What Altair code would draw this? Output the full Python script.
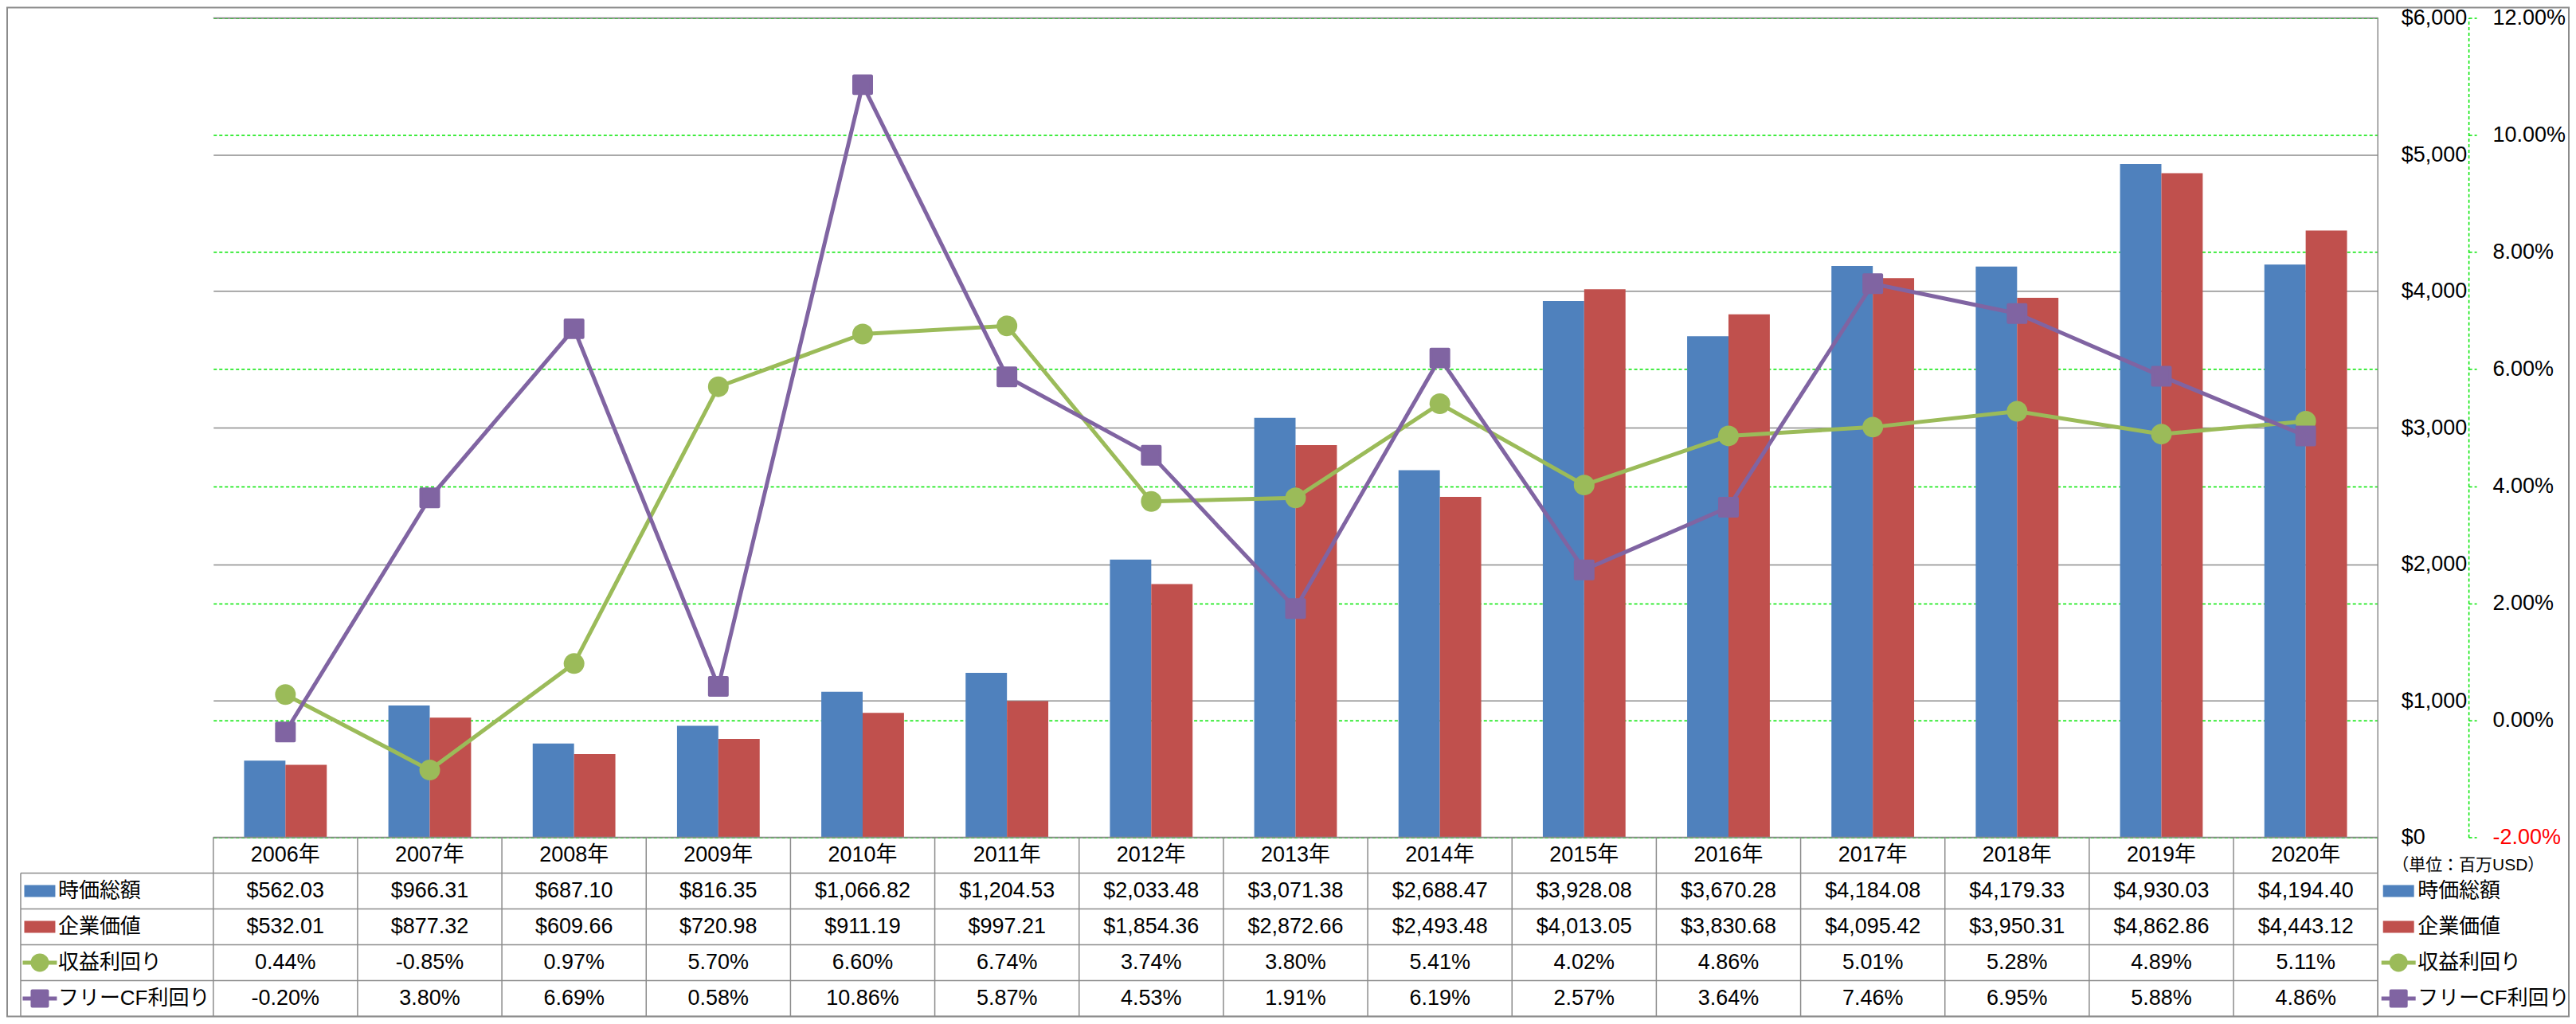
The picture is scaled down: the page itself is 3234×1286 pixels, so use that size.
import altair as alt
import pandas as pd

# ---------------- data ----------------
years = [2006, 2007, 2008, 2009, 2010, 2011, 2012, 2013, 2014, 2015, 2016, 2017, 2018, 2019, 2020]
year_labels = [f"{y}年" for y in years]
market_cap = [562.03, 966.31, 687.10, 816.35, 1066.82, 1204.53, 2033.48, 3071.38, 2688.47,
              3928.08, 3670.28, 4184.08, 4179.33, 4930.03, 4194.40]
enterprise_value = [532.01, 877.32, 609.66, 720.98, 911.19, 997.21, 1854.36, 2872.66, 2493.48,
                    4013.05, 3830.68, 4095.42, 3950.31, 4862.86, 4443.12]
earnings_yield = [0.44, -0.85, 0.97, 5.70, 6.60, 6.74, 3.74, 3.80, 5.41, 4.02, 4.86, 5.01, 5.28, 4.89, 5.11]
fcf_yield = [-0.20, 3.80, 6.69, 0.58, 10.86, 5.87, 4.53, 1.91, 6.19, 2.57, 3.64, 7.46, 6.95, 5.88, 4.86]
series_names = ["時価総額", "企業価値", "収益利回り", "フリーCF利回り"]
series_colors = ["#4F81BD", "#C0504D", "#9BBB59", "#8064A2"]
usd_ticks = [0, 1000, 2000, 3000, 4000, 5000, 6000]
pct_ticks = [-2, 0, 2, 4, 6, 8, 10, 12]
unit_label = "（単位：百万USD）"

# ---------------- layout / style ----------------
W, H = 2720, 1030
ROW = 45
TB = H + 5 * ROW
FONT = "Liberation Sans, Noto Sans CJK JP"
GRAY = "#8C8C8C"
LIME = "#00E600"
color_scale = alt.Scale(domain=series_names, range=series_colors)

bar_df = pd.DataFrame({
    "year": year_labels * 2,
    "series": [series_names[0]] * len(years) + [series_names[1]] * len(years),
    "value": market_cap + enterprise_value,
})
ey_df = pd.DataFrame({"year": year_labels, "pct": earnings_yield})
fcf_df = pd.DataFrame({"year": year_labels, "pct": fcf_yield})

rows_text = [
    year_labels,
    [f"${v:,.2f}" for v in market_cap],
    [f"${v:,.2f}" for v in enterprise_value],
    [f"{v:.2f}%" for v in earnings_yield],
    [f"{v:.2f}%" for v in fcf_yield],
]
tbl_records = []
for r, texts in enumerate(rows_text):
    for yl, t in zip(year_labels, texts):
        tbl_records.append({"year": yl, "ty": r + 0.5, "label": t})
tbl_df = pd.DataFrame(tbl_records)

lab_df = pd.DataFrame({"series": series_names, "ty": [1.5, 2.5, 3.5, 4.5]})
one = pd.DataFrame({"k": [0]})

ty_scale = alt.Scale(domain=[0, 5], range=[H, TB], nice=False)
usd_scale = alt.Scale(domain=[0, 6000], nice=False)

x_band = alt.X("year:N", sort=year_labels, axis=None,
               scale=alt.Scale(paddingInner=0.427, paddingOuter=0.2135))
x_pt = alt.X("year:N", sort=year_labels, axis=None)

# ---------------- bars ----------------
bars = alt.Chart(bar_df).mark_bar().encode(
    x=x_band,
    xOffset=alt.XOffset("series:N", sort=series_names[:2],
                        scale=alt.Scale(domain=series_names[:2], paddingInner=0, paddingOuter=0)),
    y=alt.Y("value:Q", scale=usd_scale,
            axis=alt.Axis(orient="right", values=usd_ticks, format="$,.0f", ticks=False,
                          domain=False, labelPadding=29, grid=True, gridColor=GRAY, gridWidth=1.5,
                          labelFont=FONT, labelFontSize=27, labelColor="#000000",
                          labelFlush=False, labelOverlap=False, labelBound=False, title=None)),
    color=alt.Color("series:N", scale=color_scale, legend=None),
)

pct_axis = alt.Axis(
    orient="right", offset=114, values=pct_ticks,
    labelExpr="(datum.value < 0 ? '-' : '') + format(abs(datum.value), '.2f') + '%'",
    tickSize=10, tickColor=LIME, tickDash=[4, 3], tickWidth=1.5,
    domainColor=LIME, domainDash=[4, 3], domainWidth=1.5,
    grid=True, gridColor=LIME, gridDash=[4, 3], gridWidth=1.5,
    labelPadding=20, labelFont=FONT, labelFontSize=27,
    labelColor={"condition": {"test": "datum.value < 0", "value": "#FF0000"}, "value": "#000000"},
    labelFlush=False, labelOverlap=False, labelBound=False, title=None,
)
pct_scale = alt.Scale(domain=[-2, 12], nice=False)

# gray frame lines at $0 and $6,000 drawn over the dashed secondary grid
edge_rules = alt.Chart(pd.DataFrame({"v": [usd_ticks[0], usd_ticks[-1]]})).mark_rule(
    color=GRAY, strokeWidth=1.5).encode(
    x=alt.value(0), x2=alt.value(W), y=alt.Y("v:Q", scale=usd_scale, axis=None))

ey_line = alt.Chart(ey_df).mark_line(color=series_colors[2], strokeWidth=5).encode(
    x=x_pt, y=alt.Y("pct:Q", scale=pct_scale, axis=pct_axis))
ey_pts = alt.Chart(ey_df).mark_point(shape="circle", filled=True, size=676, opacity=1,
                                     color=series_colors[2]).encode(
    x=x_pt, y=alt.Y("pct:Q", scale=pct_scale, axis=None))
fcf_line = alt.Chart(fcf_df).mark_line(color=series_colors[3], strokeWidth=5).encode(
    x=x_pt, y=alt.Y("pct:Q", scale=pct_scale, axis=None))
fcf_pts = alt.Chart(fcf_df).mark_point(shape="square", filled=True, size=484, opacity=1,
                                       color=series_colors[3], stroke=series_colors[3],
                                       strokeWidth=4, strokeJoin="round").encode(
    x=x_pt, y=alt.Y("pct:Q", scale=pct_scale, axis=None))

# ---------------- data table ----------------
tbl_text = alt.Chart(tbl_df).mark_text(font=FONT, fontSize=27, color="#000000",
                                       align="center", baseline="middle").encode(
    x=x_pt, y=alt.Y("ty:Q", scale=ty_scale, axis=None), text="label:N")

hlines = alt.Chart(pd.DataFrame({"ty": [1, 2, 3, 4, 5]})).mark_rule(color=GRAY, strokeWidth=1.5).encode(
    x=alt.value(-242), x2=alt.value(W), y=alt.Y("ty:Q", scale=ty_scale, axis=None))
vlines = alt.Chart(pd.DataFrame({"tx": list(range(len(years) + 1)), "y0": 0, "y1": 5})).mark_rule(
    color=GRAY, strokeWidth=1.5).encode(
    x=alt.X("tx:Q", scale=alt.Scale(domain=[0, len(years)], nice=False, zero=False), axis=None),
    y=alt.Y("y0:Q", scale=ty_scale, axis=None), y2="y1:Q")
left_vline = alt.Chart(pd.DataFrame({"y0": [1], "y1": [5]})).mark_rule(color=GRAY, strokeWidth=1.5).encode(
    x=alt.value(-242), y=alt.Y("y0:Q", scale=ty_scale, axis=None), y2="y1:Q")
right_vline = alt.Chart(one).mark_rule(color=GRAY, strokeWidth=1.5).encode(
    x=alt.value(W), y=alt.value(0), y2=alt.value(TB))
border = alt.Chart(one).mark_rect(filled=False, stroke=GRAY, strokeWidth=2).encode(
    x=alt.value(-259), x2=alt.value(2960), y=alt.value(-13), y2=alt.value(TB))

unit = alt.Chart(pd.DataFrame({"t": [unit_label]})).mark_text(
    font=FONT, fontSize=21, align="left", baseline="middle", color="#000000").encode(
    x=alt.value(2738), y=alt.value(H + 35), text="t:N")

RECT_PATH = "M-1,-0.385H1V0.385H-1Z"
SEG_PATH = "M-1,-0.116H1V0.116H-1Z"


def legend_layers(xc, xt):
    ly = alt.Y("ty:Q", scale=ty_scale, axis=None)
    col = alt.Color("series:N", scale=color_scale, legend=None)
    bar_sym = alt.Chart(lab_df.iloc[:2]).mark_point(shape=RECT_PATH, size=1521, filled=True,
                                                    opacity=1, strokeWidth=0).encode(
        x=alt.value(xc), y=ly, color=col)
    seg_sym = alt.Chart(lab_df.iloc[2:]).mark_point(shape=SEG_PATH, size=1849, filled=True,
                                                    opacity=1, strokeWidth=0).encode(
        x=alt.value(xc), y=ly, color=col)
    circ_sym = alt.Chart(lab_df.iloc[2:3]).mark_point(shape="circle", size=529, filled=True,
                                                      opacity=1, strokeWidth=0).encode(
        x=alt.value(xc), y=ly, color=col)
    sq_sym = alt.Chart(lab_df.iloc[3:4]).mark_point(shape="square", size=361, filled=True, opacity=1,
                                                    stroke=series_colors[3], strokeWidth=4,
                                                    strokeJoin="round").encode(
        x=alt.value(xc), y=ly, color=col)
    txt = alt.Chart(lab_df).mark_text(font=FONT, fontSize=26, align="left", baseline="middle",
                                      color="#000000").encode(
        x=alt.value(xt), y=ly, text="series:N")
    return [bar_sym, seg_sym, circ_sym, sq_sym, txt]


layers = [bars, edge_rules, ey_line, ey_pts, fcf_line, fcf_pts, tbl_text, hlines, vlines, left_vline,
          right_vline, unit, border] + legend_layers(-218, -195) + legend_layers(2746, 2770)

chart = alt.layer(*layers).resolve_scale(x="independent", y="independent").properties(
    width=W, height=H, padding={"left": 0, "top": 0, "right": 0, "bottom": 0}
).configure_view(strokeWidth=0)

chart.save("out.html", embed_options={"renderer": "svg", "actions": False})
